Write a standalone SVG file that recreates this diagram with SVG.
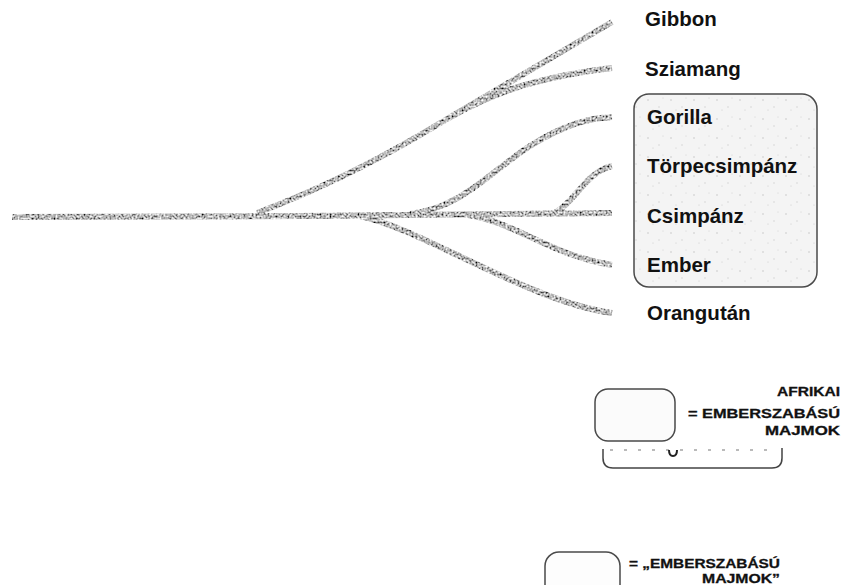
<svg xmlns="http://www.w3.org/2000/svg" width="843" height="585" viewBox="0 0 843 585">
<style>
.lbl{font-family:"Liberation Sans",Arial,sans-serif;font-weight:bold;font-size:20.5px;fill:#111}
.leg{font-family:"Liberation Sans",Arial,sans-serif;font-weight:bold;font-size:12.5px;fill:#111;stroke:#111;stroke-width:0.3}
.br{fill:none;stroke:#777;stroke-width:6;stroke-linecap:butt}
.box{stroke:#4a4a4a;stroke-width:1.5}
</style>
<defs>
<filter id="grain" x="-5%" y="-20%" width="110%" height="140%">
<feTurbulence type="fractalNoise" baseFrequency="0.5" numOctaves="2" seed="5" result="n"/>
<feColorMatrix in="n" type="matrix" values="1.8 0 0 0 -0.42  1.8 0 0 0 -0.42  1.8 0 0 0 -0.42  0 0 0 0 1" result="g"/>
<feComposite in="g" in2="SourceGraphic" operator="in"/>
</filter>
<pattern id="speck" width="23" height="19" patternUnits="userSpaceOnUse">
<rect width="23" height="19" fill="#f4f4f4"/>
<circle cx="4" cy="5" r="0.8" fill="#c8c8c8"/>
<circle cx="15" cy="12" r="0.7" fill="#cfcfcf"/>
<circle cx="19" cy="3" r="0.6" fill="#d2d2d2"/>
<circle cx="9" cy="15" r="0.6" fill="#cccccc"/>
</pattern>
</defs>
<g id="connectors" filter="url(#grain)">
<path class="br" d="M12,217 L300,216 L612,213"/>
<path class="br" d="M257,213 C310,193 360,170 420,135 S560,52 612,22"/>
<path class="br" d="M452,116 C490,95 530,78 612,68"/>
<path class="br" d="M410,214 C462,208 492,170 530,146 C565,124 590,118 612,117"/>
<path class="br" d="M555,213 C575,202 586,172 612,166"/>
<path class="br" d="M468,215 C515,222 552,256 612,265"/>
<path class="br" d="M360,216 C420,228 530,302 612,313"/>
</g>
<g id="group-african">
<rect class="box" x="634" y="94" width="183" height="193" rx="15" fill="url(#speck)"/>
</g>
<g id="node-gibbon"><text class="lbl" x="645" y="26">Gibbon</text></g>
<g id="node-sziamang"><text class="lbl" x="645" y="76">Sziamang</text></g>
<g id="node-gorilla"><text class="lbl" x="647" y="124">Gorilla</text></g>
<g id="node-torpecsimpanz"><text class="lbl" x="647" y="173">Törpecsimpánz</text></g>
<g id="node-csimpanz"><text class="lbl" x="647" y="223">Csimpánz</text></g>
<g id="node-ember"><text class="lbl" x="647" y="272">Ember</text></g>
<g id="node-orangutan"><text class="lbl" x="647" y="320">Orangután</text></g>
<g id="legend-african">
<rect class="box" x="595" y="389" width="80" height="52" rx="13" fill="#fbfbfb"/>
<text class="leg" x="777" y="396" textLength="63" lengthAdjust="spacingAndGlyphs">AFRIKAI</text>
<text class="leg" x="688" y="418" textLength="152" lengthAdjust="spacingAndGlyphs">= EMBERSZABÁSÚ</text>
<text class="leg" x="765" y="435" textLength="75" lengthAdjust="spacingAndGlyphs">MAJMOK</text>
</g>
<g id="legend-bracket">
<path d="M603,449 L603,458 Q603,468 613,468 L772,468 Q782,468 782,458 L782,448" fill="none" stroke="#444" stroke-width="1.5"/>
<line x1="610" y1="450" x2="772" y2="450" stroke="#777" stroke-width="1.2" stroke-dasharray="3 11"/>
<path d="M669,450 Q669,456 673,456 Q677,456 677,450" fill="none" stroke="#222" stroke-width="2"/>
</g>
<g id="legend-apes">
<rect class="box" x="545" y="552" width="75" height="50" rx="14" fill="#fdfdfd"/>
<text class="leg" x="629" y="568" textLength="151" lengthAdjust="spacingAndGlyphs">= „EMBERSZABÁSÚ</text>
<text class="leg" x="702" y="583" textLength="78" lengthAdjust="spacingAndGlyphs">MAJMOK”</text>
</g>
</svg>
